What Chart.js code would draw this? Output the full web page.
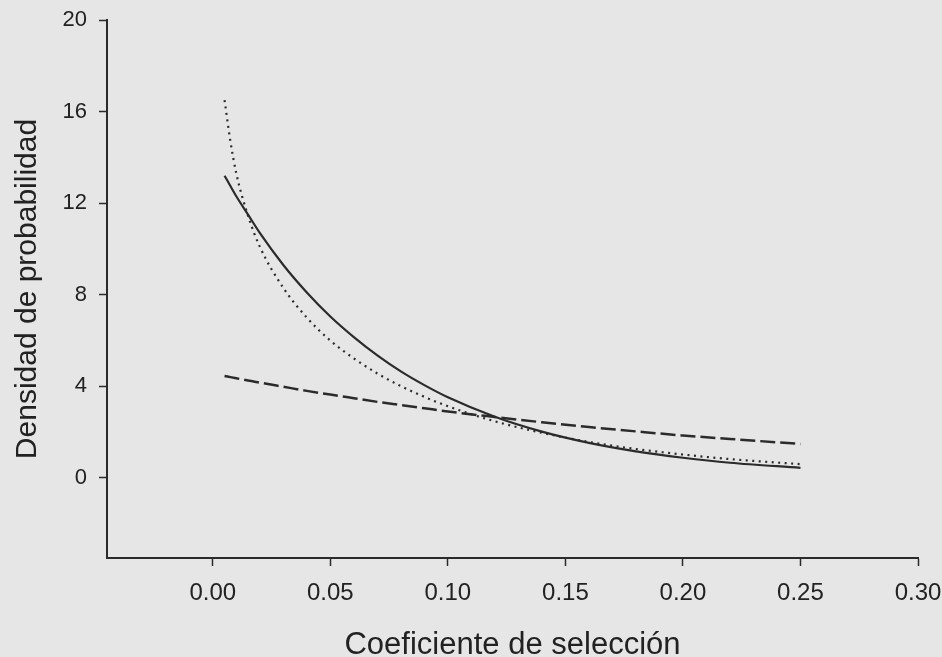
<!DOCTYPE html>
<html>
<head>
<meta charset="utf-8">
<script src="https://cdn.jsdelivr.net/npm/chart.js@4/dist/chart.umd.min.js"></script>
<style>
  html, body { margin: 0; padding: 0; background: #e6e6e6; }
  #wrap { width: 942px; height: 657px; position: relative; }
</style>
</head>
<body>
<div id="wrap"><canvas id="chart"></canvas></div>
<script>
// coeficiente de selección (s) where the curves were read
const sValues = [0.005, 0.0075, 0.01, 0.015, 0.02, 0.03, 0.04, 0.05, 0.06, 0.07, 0.08, 0.09, 0.10, 0.12, 0.14, 0.16, 0.18, 0.20, 0.22, 0.25];

const solidDensity = [13.2, 12.75, 12.3, 11.5, 10.7, 9.3, 8.1, 7.05, 6.15, 5.35, 4.65, 4.05, 3.52, 2.67, 2.02, 1.53, 1.16, 0.88, 0.66, 0.44];
const dottedDensity = [16.5, 14.7, 13.3, 11.45, 10.1, 8.3, 7.0, 6.0, 5.22, 4.56, 4.01, 3.54, 3.13, 2.47, 1.97, 1.57, 1.26, 1.02, 0.82, 0.60];
const dashedDensity = [4.45, 4.40, 4.35, 4.25, 4.16, 3.98, 3.80, 3.64, 3.48, 3.32, 3.18, 3.04, 2.90, 2.66, 2.43, 2.22, 2.03, 1.85, 1.70, 1.48];

const xTicks = [0, 0.05, 0.10, 0.15, 0.20, 0.25, 0.30];
const yTicks = [0, 4, 8, 12, 16, 20];

const ink = "#2b2b2b";
const fontFamily = "'Liberation Sans', Arial, sans-serif";

const toPoints = (ys) => sValues.map((s, i) => ({ x: s, y: ys[i] }));

const lineStyle = {
  pointRadius: 0,
  fill: false,
  borderColor: ink,
  cubicInterpolationMode: "monotone",
};

new Chart(document.getElementById("chart"), {
  type: "line",
  data: {
    datasets: [
      { ...lineStyle, label: "solid", data: toPoints(solidDensity), borderWidth: 2.2 },
      { ...lineStyle, label: "dotted", data: toPoints(dottedDensity), borderWidth: 2.2, borderDash: [2, 4.5] },
      { ...lineStyle, label: "dashed", data: toPoints(dashedDensity), borderWidth: 2.5, borderDash: [15, 5] },
    ],
  },
  options: {
    responsive: true,
    maintainAspectRatio: false,
    animation: false,
    layout: { padding: { top: 20, right: 24, left: 0, bottom: 0 } },
    plugins: { legend: { display: false }, tooltip: { enabled: false } },
    scales: {
      x: {
        type: "linear",
        min: -0.045,
        max: 0.30,
        afterBuildTicks: (scale) => { scale.ticks = xTicks.map((v) => ({ value: v })); },
        afterFit: (scale) => {
          scale.height = 99;
          // keep the 0.30 label from shrinking the plot area
          scale.paddingLeft = 0;
          scale.paddingRight = 0;
        },
        grid: { drawOnChartArea: false, drawTicks: true, tickLength: 8, tickColor: ink, tickWidth: 1.5 },
        border: { display: true, color: ink, width: 2 },
        ticks: {
          color: "#222",
          padding: 13,
          maxRotation: 0,
          autoSkip: false,
          font: { family: fontFamily, size: 24 },
          callback: (v) => v.toFixed(2),
        },
        title: {
          display: true,
          text: "Coeficiente de selección",
          color: "#222",
          font: { family: fontFamily, size: 31, lineHeight: 0.8 },
          padding: { top: 0, bottom: -1 },
        },
      },
      y: {
        type: "linear",
        min: -3.5,
        max: 20,
        afterBuildTicks: (scale) => { scale.ticks = yTicks.map((v) => ({ value: v })); },
        afterFit: (scale) => {
          scale.width = 107;
          scale.paddingTop = 0;
          scale.paddingBottom = 0;
        },
        grid: { drawOnChartArea: false, drawTicks: true, tickLength: 8, tickColor: ink, tickWidth: 1.5 },
        border: { display: true, color: ink, width: 2 },
        ticks: {
          color: "#222",
          padding: 12,
          autoSkip: false,
          font: { family: fontFamily, size: 22 },
        },
        title: {
          display: true,
          text: "Densidad de probabilidad",
          color: "#222",
          font: { family: fontFamily, size: 30 },
          padding: { top: 10, bottom: 0 },
        },
      },
    },
  },
});
</script>
</body>
</html>
